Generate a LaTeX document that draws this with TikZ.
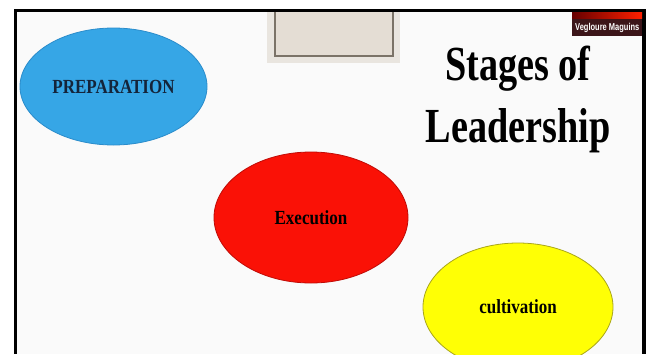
\documentclass[tikz,border=0pt]{standalone}
\usepackage{fontspec}
\setmainfont{Liberation Serif}
\newfontfamily\slidefont[FakeStretch=0.85]{Liberation Serif}
\newfontfamily\titlefont[FakeStretch=0.78]{Liberation Serif}
\newfontfamily\tagfont[FakeStretch=0.75]{Liberation Sans}
\usetikzlibrary{shapes.geometric}
\definecolor{slidebg}{HTML}{FAFAFA}
\definecolor{prepblue}{HTML}{36A6E6}
\definecolor{prepedge}{HTML}{2A8CCB}
\definecolor{preptext}{HTML}{14243A}
\definecolor{execred}{HTML}{FA1106}
\definecolor{execedge}{HTML}{C00A05}
\definecolor{cultyellow}{HTML}{FFFF05}
\definecolor{cultedge}{HTML}{A9A61A}
\definecolor{padgrey}{HTML}{E9E5DF}
\definecolor{boxgrey}{HTML}{E4DDD4}
\definecolor{boxedge}{HTML}{7B7368}
\definecolor{tagdark}{HTML}{3C1519}
\newcommand{\stagefont}{\slidefont\bfseries\fontsize{20}{24}\selectfont}
\newcommand{\bigtitle}{\titlefont\bfseries\fontsize{49}{55}\selectfont}

\begin{document}
\begin{tikzpicture}[x=1pt,y=-1pt,
  stage/.style={ellipse,draw,line width=0.8pt,inner sep=0pt,font=\stagefont}]
\useasboundingbox (0,0) rectangle (648,354);
\fill[white] (0,0) rectangle (648,354);
%slide frame
\fill[black] (14,9) rectangle (646,354);
\fill[slidebg] (17,12) rectangle (642,354);
\begin{scope}
\clip (17,12) rectangle (642,354);
%picture box at the top
\fill[padgrey] (267,12) rectangle (400,63);
\draw[boxedge,fill=boxgrey,line width=1.2pt] (275,8) rectangle (393,56);
%stages
\node[stage,fill=prepblue,draw=prepedge,text=preptext,minimum width=187pt,minimum height=117pt]
  (prep) at (113.5,86.5) {PREPARATION};
\node[stage,fill=execred,draw=execedge,minimum width=194pt,minimum height=131pt]
  (exec) at (311,217.5) {Execution};
\node[stage,fill=cultyellow,draw=cultedge,minimum width=190pt,minimum height=128pt]
  (cult) at (518,307) {cultivation};
%title
\node[anchor=base,font=\bigtitle] (stages) at (518,80) {Stages of};
\node[anchor=base,font=\bigtitle] (leader) at ([yshift=-62pt]stages.base) {Leadership};
%name tag
\fill[tagdark] (572,12) rectangle (642,36);
\shade[left color=red!40!black,right color=red!75!orange] (572,12) rectangle (642,18);
\node[anchor=base west,text=white,inner sep=0pt,font=\tagfont\bfseries\fontsize{10}{12}\selectfont]
  (tag) at (575,30.5) {Vegloure Maguins};
\end{scope}
\end{tikzpicture}
\end{document}
